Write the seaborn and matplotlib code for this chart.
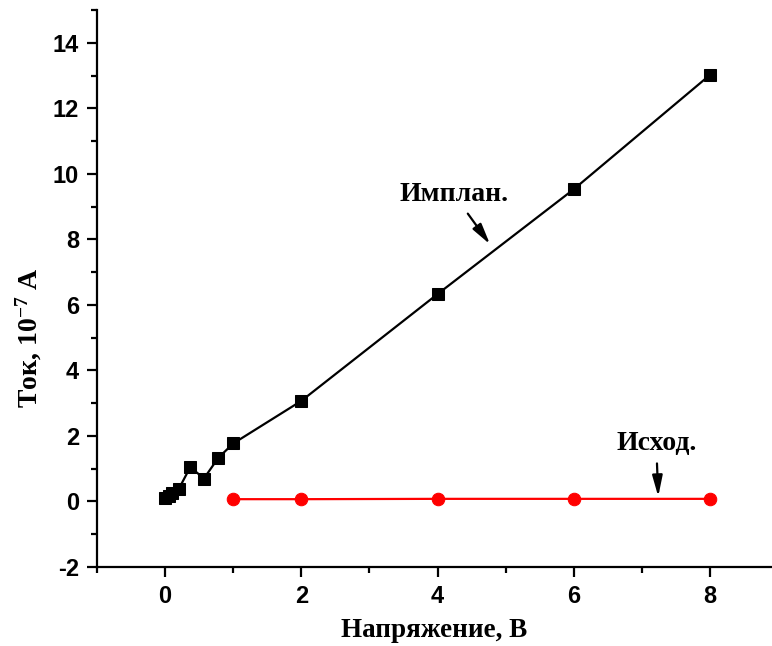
import matplotlib
matplotlib.use("Agg")
import matplotlib.pyplot as plt
import seaborn as sns
import pandas as pd
from matplotlib.ticker import MultipleLocator

# Data
implant_x = [0.0, 0.05, 0.1, 0.2, 0.37, 0.57, 0.78, 1.0, 2.0, 4.0, 6.0, 8.0]
implant_y = [0.1, 0.17, 0.25, 0.38, 1.05, 0.7, 1.33, 1.77, 3.07, 6.33, 9.53, 13.02]
orig_x = [1.0, 2.0, 4.0, 6.0, 8.0]
orig_y = [0.07, 0.07, 0.08, 0.08, 0.08]

xlabel = "Напряжение, В"
ylabel = "Ток, 10$^{-7}$ A"
label_impl = "Имплан."
label_orig = "Исход."

sns.set_theme(style="white")
plt.rcParams["axes.unicode_minus"] = False
plt.rcParams["mathtext.fontset"] = "custom"
plt.rcParams["mathtext.rm"] = "Liberation Serif:bold"
plt.rcParams["mathtext.bf"] = "Liberation Serif:bold"
plt.rcParams["mathtext.default"] = "bf"

df_i = pd.DataFrame({"x": implant_x, "y": implant_y})
df_o = pd.DataFrame({"x": orig_x, "y": orig_y})

fig = plt.figure(figsize=(7.72, 6.46), dpi=100)
ax = fig.add_axes([97 / 772, 79 / 646, 675 / 772, 557 / 646])

sns.lineplot(data=df_i, x="x", y="y", ax=ax, color="black", linewidth=1.6,
             marker="s", markersize=8, markeredgecolor="black", sort=False)
sns.lineplot(data=df_o, x="x", y="y", ax=ax, color="#ff0000", linewidth=1.6,
             marker="o", markersize=9, markeredgecolor="#ff0000", sort=False)

ax.set_xlim(-1, 8.91)
ax.set_ylim(-2, 15)
ax.xaxis.set_major_locator(MultipleLocator(2))
ax.xaxis.set_minor_locator(MultipleLocator(1))
ax.yaxis.set_major_locator(MultipleLocator(2))
ax.yaxis.set_minor_locator(MultipleLocator(1))

for s in ["top", "right"]:
    ax.spines[s].set_visible(False)
for s in ["left", "bottom"]:
    ax.spines[s].set_linewidth(1.6)
    ax.spines[s].set_color("black")

ax.tick_params(which="major", direction="out", length=7, width=1.6, color="black",
               left=True, bottom=True, pad=6)
ax.tick_params(which="minor", direction="out", length=4, width=1.6, color="black",
               left=True, bottom=True)
for lab in ax.get_xticklabels() + ax.get_yticklabels():
    lab.set_fontfamily("Liberation Sans")
    lab.set_fontweight("bold")
    lab.set_fontsize(17)
    lab.set_color("black")

ax.set_xlabel(xlabel, fontfamily="Liberation Serif", fontweight="bold", fontsize=19.5,
              color="black", labelpad=7)
ax.set_ylabel(ylabel, fontfamily="Liberation Serif", fontweight="bold", fontsize=20,
              color="black", labelpad=6)
ax.yaxis.label.set_y(0.411)

arrow = dict(arrowstyle="-|>,head_width=0.22,head_length=0.9", color="black", lw=1.6,
             shrinkA=3, shrinkB=0, mutation_scale=14)
ax.annotate(label_impl, xy=(4.77, 7.85), xytext=(4.24, 9.37),
            ha="center", va="center", fontfamily="Liberation Serif", fontweight="bold",
            fontsize=20, color="black", arrowprops=arrow)
ax.annotate(label_orig, xy=(7.24, 0.15), xytext=(7.21, 1.77),
            ha="center", va="center", fontfamily="Liberation Serif", fontweight="bold",
            fontsize=20, color="black", arrowprops=arrow)

fig.savefig("out.png", dpi=100, facecolor="white")
